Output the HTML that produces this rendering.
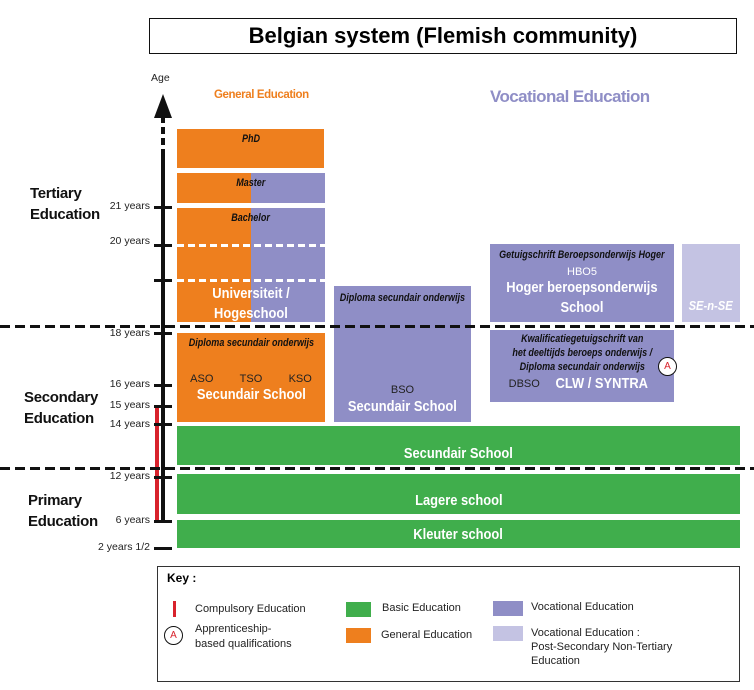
<!DOCTYPE html>
<html><head><meta charset="utf-8"><style>
body{margin:0;width:754px;height:690px;background:#fff;position:relative;overflow:hidden;font-family:"Liberation Sans",sans-serif;}
.a{position:absolute;}
.b{position:absolute;display:flex;flex-direction:column;align-items:center;color:#fff;font-weight:bold;text-align:center;}
.o{background:#ee7f1e}.p{background:#8f8ec6}.g{background:#40ae4c}.l{background:#c4c3e3}
.it{font-style:italic;color:#111;font-weight:bold;font-size:11px;white-space:nowrap;transform:scaleX(.82)}
.sm{font-size:11px;color:#222;font-weight:normal}
.big{font-size:15px;white-space:nowrap}
.c{display:inline-block;transform:scaleX(.86);white-space:nowrap}
.t{position:absolute;font-size:10.5px;color:#222;text-align:right;width:60px}
.tk{position:absolute;left:154px;width:18px;height:3px;background:#111}
.lab{position:absolute;font-weight:bold;font-size:15px;color:#111;line-height:21px;letter-spacing:-0.3px}
.k{position:absolute;font-size:11px;color:#222;line-height:15px}
</style></head><body>
<div class="a" style="left:149px;top:18px;width:588px;height:36px;border:1.5px solid #111;box-sizing:border-box;font-weight:bold;font-size:22px;text-align:center;line-height:34px;">Belgian system (Flemish community)</div>

<div class="a" style="left:214px;top:89px;font-size:11.5px;font-weight:bold;color:#ee7f1e;letter-spacing:-0.4px">General Education</div>
<div class="a" style="left:490px;top:87px;font-size:17px;font-weight:bold;color:#8f8ec6;letter-spacing:-0.6px">Vocational Education</div>

<!-- axis -->
<div class="a" style="left:151px;top:72px;font-size:10.5px;color:#222">Age</div>
<div class="a" style="left:154px;top:94px;width:0;height:0;border-left:9px solid transparent;border-right:9px solid transparent;border-bottom:24px solid #111"></div>
<div class="a" style="left:161px;top:116px;width:4px;height:40px;background:repeating-linear-gradient(#111 0 7px,transparent 7px 11px)"></div>
<div class="a" style="left:161px;top:155px;width:4px;height:368px;background:#111"></div>
<div class="a" style="left:155px;top:405px;width:4px;height:116px;background:#d8222c"></div>

<div class="tk" style="top:206px"></div><div class="t" style="left:90px;top:200px">21 years</div>
<div class="tk" style="top:244px"></div><div class="t" style="left:90px;top:235px">20 years</div>
<div class="tk" style="top:279px"></div>
<div class="tk" style="top:332px"></div><div class="t" style="left:90px;top:327px">18 years</div>
<div class="tk" style="top:384px"></div><div class="t" style="left:90px;top:378px">16 years</div>
<div class="tk" style="top:405px"></div><div class="t" style="left:90px;top:399px">15 years</div>
<div class="tk" style="top:423px"></div><div class="t" style="left:90px;top:418px">14 years</div>
<div class="tk" style="top:476px"></div><div class="t" style="left:90px;top:470px">12 years</div>
<div class="tk" style="top:520px"></div><div class="t" style="left:90px;top:514px">6 years</div>
<div class="tk" style="top:547px"></div><div class="t" style="left:80px;top:541px;width:70px">2 years 1/2</div>

<div class="lab" style="left:30px;top:183px">Tertiary<br>Education</div>
<div class="lab" style="left:24px;top:387px">Secondary<br>Education</div>
<div class="lab" style="left:28px;top:490px">Primary<br>Education</div>

<!-- tertiary general -->
<div class="b o" style="left:177px;top:129px;width:147px;height:39px"><div class="it" style="margin-top:4px">PhD</div></div>
<div class="a o" style="left:177px;top:173px;width:74px;height:30px"></div>
<div class="a p" style="left:251px;top:173px;width:74px;height:30px"></div>
<div class="b" style="left:177px;top:173px;width:148px"><div class="it" style="margin-top:4px">Master</div></div>
<div class="a o" style="left:177px;top:208px;width:74px;height:114px"></div>
<div class="a p" style="left:251px;top:208px;width:74px;height:114px"></div>
<div class="a" style="left:177px;top:244px;width:148px;height:3px;background:repeating-linear-gradient(90deg,#fff 0 7px,transparent 7px 11px)"></div>
<div class="a" style="left:177px;top:279px;width:148px;height:3px;background:repeating-linear-gradient(90deg,#fff 0 7px,transparent 7px 11px)"></div>
<div class="b" style="left:177px;top:208px;width:148px"><div class="it" style="margin-top:4px">Bachelor</div></div>
<div class="b big" style="left:177px;top:284px;width:148px;line-height:20px"><span class="c">Universiteit /</span><span class="c">Hogeschool</span></div>

<!-- secondary general -->
<div class="b o" style="left:177px;top:333px;width:148px;height:89px">
<div class="it" style="margin-top:4px">Diploma secundair onderwijs</div>
<div style="display:flex;justify-content:space-around;width:100%;margin-top:24px" class="sm"><span>ASO</span><span>TSO</span><span>KSO</span></div>
<div class="big" style="margin-top:1px"><span class="c">Secundair School</span></div></div>

<!-- BSO -->
<div class="b p" style="left:334px;top:286px;width:137px;height:136px">
<div class="it" style="margin-top:6px">Diploma secundair onderwijs</div>
<div class="sm" style="margin-top:80px">BSO</div>
<div class="big" style="margin-top:2px"><span class="c">Secundair School</span></div></div>

<!-- HBO5 -->
<div class="b p" style="left:490px;top:244px;width:184px;height:78px">
<div class="it" style="margin-top:5px">Getuigschrift Beroepsonderwijs Hoger</div>
<div class="sm" style="margin-top:5px;color:#fff">HBO5</div>
<div class="big" style="line-height:20px"><span class="c">Hoger beroepsonderwijs</span><br><span class="c">School</span></div></div>
<div class="b l" style="left:682px;top:244px;width:58px;height:78px"><div class="c" style="margin-top:54px;font-style:italic;font-size:13px">SE-n-SE</div></div>

<!-- CLW -->
<div class="b p" style="left:490px;top:330px;width:184px;height:72px">
<div class="it" style="margin-top:2px;line-height:14px">Kwalificatiegetuigschrift van<br>het deeltijds beroeps onderwijs /<br>Diploma secundair onderwijs</div>
<div style="display:flex;align-items:center;margin-top:1px"><span class="sm" style="margin-right:8px">DBSO</span><span class="big"><span class="c">CLW / SYNTRA</span></span></div></div>
<div class="a" style="left:658px;top:357px;width:19px;height:19px;border:1.2px solid #111;border-radius:50%;background:#fff;color:#d8222c;font-size:10px;text-align:center;line-height:17px;box-sizing:border-box">A</div>

<!-- basic -->
<div class="b g big" style="left:177px;top:426px;width:563px;height:39px;justify-content:center;padding-top:16px;box-sizing:border-box"><span class="c">Secundair School</span></div>
<div class="b g big" style="left:177px;top:474px;width:563px;height:40px;justify-content:center;padding-top:12px;box-sizing:border-box"><span class="c">Lagere school</span></div>
<div class="b g big" style="left:177px;top:520px;width:563px;height:28px;justify-content:center"><span class="c">Kleuter school</span></div>

<!-- dashed lines -->
<div class="a" style="left:0;top:325px;width:754px;height:3px;background:repeating-linear-gradient(90deg,#111 0 10px,transparent 10px 15px)"></div>
<div class="a" style="left:0;top:467px;width:754px;height:3px;background:repeating-linear-gradient(90deg,#111 0 10px,transparent 10px 15px)"></div>

<!-- key -->
<div class="a" style="left:157px;top:566px;width:583px;height:116px;border:1.3px solid #333;box-sizing:border-box"></div>
<div class="a" style="left:167px;top:571px;font-weight:bold;font-size:12px">Key :</div>
<div class="a" style="left:173px;top:601px;width:3px;height:16px;background:#d8222c"></div>
<div class="k" style="left:195px;top:602px">Compulsory Education</div>
<div class="a" style="left:164px;top:626px;width:19px;height:19px;border:1.2px solid #111;border-radius:50%;color:#d8222c;font-size:10px;text-align:center;line-height:17px;box-sizing:border-box">A</div>
<div class="k" style="left:195px;top:622px">Apprenticeship-<br>based qualifications</div>
<div class="a g" style="left:346px;top:602px;width:25px;height:15px"></div>
<div class="k" style="left:382px;top:601px">Basic Education</div>
<div class="a o" style="left:346px;top:628px;width:25px;height:15px"></div>
<div class="k" style="left:381px;top:628px">General Education</div>
<div class="a p" style="left:493px;top:601px;width:30px;height:15px"></div>
<div class="k" style="left:531px;top:600px">Vocational Education</div>
<div class="a l" style="left:493px;top:626px;width:30px;height:15px"></div>
<div class="k" style="left:531px;top:626px;line-height:14px">Vocational Education :<br>Post-Secondary Non-Tertiary<br>Education</div>
</body></html>
